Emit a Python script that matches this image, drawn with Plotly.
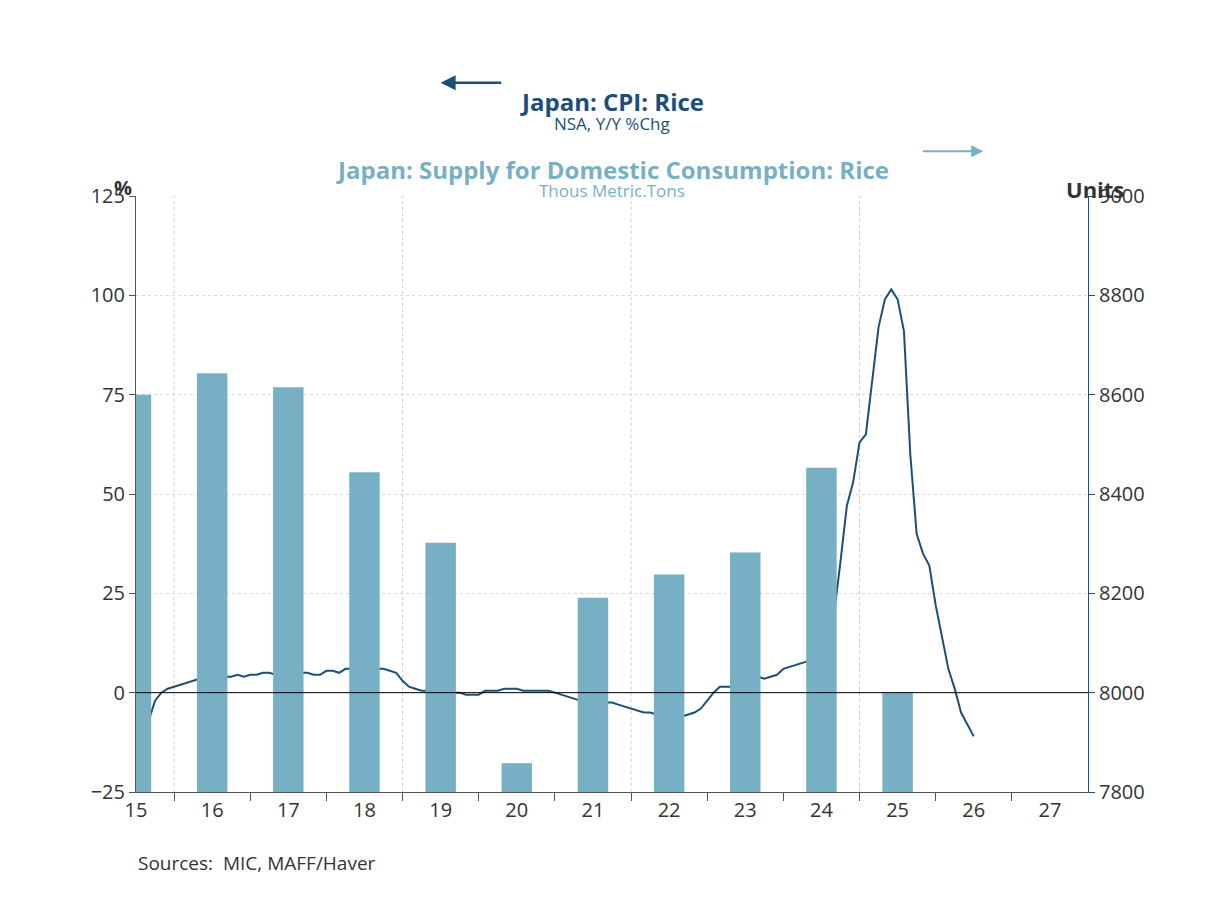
import numpy as np
import plotly.graph_objects as go

# Annual supply for domestic consumption (thous metric tons)
bar_years = [2015, 2016, 2017, 2018, 2019, 2020, 2021, 2022, 2023, 2024, 2025]
bar_values = [8600, 8643, 8615, 8444, 8302, 7858, 8191, 8238, 8282, 8453, 8000]

# Monthly CPI rice Y/Y %chg, from Jul 2015
cpi_start = (2015, 7)
cpi_values = [
    -9, -9, -7, -2, 0, 1,
    1.5, 2, 2.5, 3, 3.5, 4, 3.5, 3.5, 4, 4, 4.5, 4,
    4.5, 4.5, 5, 5, 4.5, 4.5, 5, 4.5, 5, 5, 4.5, 4.5,
    5.5, 5.5, 5, 6, 6, 6, 6, 5.5, 6, 6, 5.5, 5,
    3, 1.5, 1, 0.5, 0.5, 0, 0, 0, 0, 0, -0.5, -0.5,
    -0.5, 0.5, 0.5, 0.5, 1, 1, 1, 0.5, 0.5, 0.5, 0.5, 0.5,
    0, -0.5, -1, -1.5, -2, -2, -2, -2, -2.5, -2.5, -3, -3.5,
    -4, -4.5, -5, -5, -5.5, -5.5, -5.5, -6, -6, -5.5, -5, -4,
    -2, 0, 1.5, 1.5, 1.5, 2.5, 2.5, 3, 4, 3.5, 4, 4.5,
    6, 6.5, 7, 7.5, 8, 9, 11, 14, 20, 33, 47, 53,
    63, 65, 78, 92, 99, 101.5, 99, 91, 60, 40, 35, 32,
    22, 14, 6, 1, -5, -8, -11,
]
cpi_x = [cpi_start[0] + (cpi_start[1] - 1 + i) / 12 for i in range(len(cpi_values))]

year_labels = [str(y)[2:] for y in range(2015, 2028)]

dark = "#1b4f7a"
light = "#77b0c4"
font = "Open Sans"

fig = go.Figure()
fig.add_trace(go.Bar(
    x=[y + 0.5 for y in bar_years], y=[v - 7800 for v in bar_values], base=7800,
    width=0.4, marker_color=light, marker_line_width=0, yaxis="y2",
))
fig.add_trace(go.Scatter(x=cpi_x, y=cpi_values, mode="lines",
                         line=dict(color=dark, width=2)))

shapes = [dict(type="line", xref="x", yref="paper", x0=g, x1=g, y0=0, y1=1,
               line=dict(color="#cccccc", width=1, dash="dot"), layer="below")
          for g in [2016, 2019, 2022, 2025]]
shapes.append(dict(type="line", xref="paper", yref="y", x0=0, x1=1, y0=0, y1=0,
                   line=dict(color="black", width=1)))

fig.update_layout(
    width=1208, height=906, showlegend=False, plot_bgcolor="white",
    paper_bgcolor="white", margin=dict(l=128, r=128, t=188, b=122),
    font=dict(family=font, size=20, color="#333333"), shapes=shapes,
    xaxis=dict(range=[2015.5, 2028], tickvals=[y + 0.5 for y in range(2015, 2028)],
               ticktext=year_labels, ticks="", showgrid=False, showline=True,
               linecolor="#555555", zeroline=False,
               minor=dict(tickvals=list(range(2016, 2028)), ticks="outside",
                          ticklen=8, tickcolor="#555555", showgrid=False)),
    yaxis=dict(range=[-25, 125], dtick=25, ticks="outside", ticklen=6,
               tickcolor="#555555", showline=True, linecolor="#555555",
               gridcolor="#d9d9d9", griddash="dot", zeroline=False),
    yaxis2=dict(range=[7800, 9000], dtick=200, overlaying="y", side="right",
                ticks="outside", ticklen=6, tickcolor=dark, showline=True,
                linecolor=dark, showgrid=False, zeroline=False),
    annotations=[
        dict(xref="paper", yref="paper", x=0.5, y=1.19, text="<b>Japan: CPI: Rice</b>",
             showarrow=False, font=dict(size=24, color=dark), xanchor="center"),
        dict(xref="paper", yref="paper", x=0.5, y=1.145, text="NSA, Y/Y %Chg",
             showarrow=False, font=dict(size=17, color=dark)),
        dict(xref="paper", yref="paper", x=0.5, y=1.075,
             text="<b>Japan: Supply for Domestic Consumption: Rice</b>",
             showarrow=False, font=dict(size=24, color=light)),
        dict(xref="paper", yref="paper", x=0.5, y=1.032, text="Thous Metric.Tons",
             showarrow=False, font=dict(size=17, color=light)),
        dict(xref="paper", yref="paper", x=-0.025, y=1.04, text="<b>%</b>",
             showarrow=False, font=dict(size=20, color="#333333")),
        dict(xref="paper", yref="paper", x=1.04, y=1.04, text="<b>Units</b>",
             showarrow=False, font=dict(size=22, color="#333333")),
        dict(xref="paper", yref="paper", x=0.0, y=-0.145, text="Sources:  MIC, MAFF/Haver",
             showarrow=False, xanchor="left", font=dict(size=19, color="#333333")),
        # legend arrows
        dict(xref="paper", yref="paper", x=0.32, y=1.19, ax=62, ay=0,
             text="", showarrow=True, arrowhead=2,
             arrowsize=1.2, arrowwidth=2.5, arrowcolor=dark),
        dict(xref="paper", yref="paper", x=0.89, y=1.075, ax=-62, ay=0,
             text="", showarrow=True, arrowhead=2,
             arrowsize=1.2, arrowwidth=2, arrowcolor=light),
    ],
)

fig.write_html("out.html")
